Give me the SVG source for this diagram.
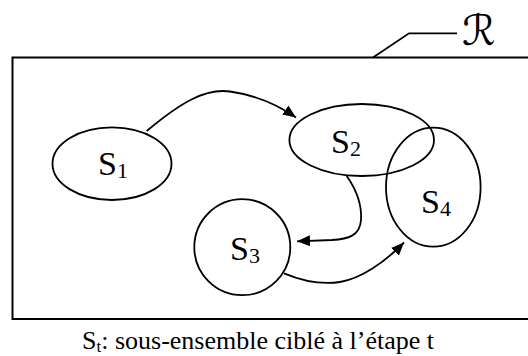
<svg xmlns="http://www.w3.org/2000/svg" width="528" height="356" viewBox="0 0 528 356">
<style>
.shape{fill:none;stroke:#000;stroke-width:1.8}
.conn{fill:none;stroke:#000;stroke-width:1.8}
.lbl{font-family:"Liberation Serif","Times New Roman",serif;font-size:34px;fill:#000}
.sub{font-size:22px}
.cap{font-family:"Liberation Serif","Times New Roman",serif;font-size:26px;fill:#000}
.capsub{font-size:17px}
</style>
<defs>
<marker id="ah" markerUnits="userSpaceOnUse" viewBox="0 0 13 11" refX="13" refY="5.5" markerWidth="13" markerHeight="11" orient="auto">
<path d="M0,0 L13,5.5 L0,11 z" fill="#000"/>
</marker>
</defs>
<rect x="12.5" y="57.5" width="530" height="261.5" fill="none" stroke="#000" stroke-width="2"/>
<g id="R-label">
<polyline points="373,57.5 409,33.3 457,33.3" fill="none" stroke="#000" stroke-width="1.8"/>
<text x="462" y="45" font-family="DejaVu Serif, DejaVu Sans, serif" font-size="42" fill="#000">ℛ</text>
</g>
<g id="S1"><ellipse class="shape" cx="112" cy="163.7" rx="59.5" ry="36.3"/><text class="lbl" x="98" y="175">S<tspan class="sub" dy="3">1</tspan></text></g>
<g id="S2"><ellipse class="shape" cx="361.7" cy="140" rx="72.3" ry="36"/><text class="lbl" x="331" y="153">S<tspan class="sub" dy="3">2</tspan></text></g>
<g id="S3"><circle class="shape" cx="242.3" cy="247.2" r="48"/><text class="lbl" x="230" y="260">S<tspan class="sub" dy="3">3</tspan></text></g>
<g id="S4"><ellipse class="shape" cx="433.3" cy="187.2" rx="47.3" ry="59.5"/><text class="lbl" x="421" y="213">S<tspan class="sub" dy="3">4</tspan></text></g>
<g id="connectors">
<path class="conn" marker-end="url(#ah)" d="M146.7,131 C180,103 205,88 230,91.5 C255,95 278,105 296,117.5"/>
<path class="conn" marker-end="url(#ah)" d="M346.7,176 C358,192 362,205 361,220 C360,236 348,239 332,240 L297,241.3"/>
<path class="conn" marker-end="url(#ah)" d="M284,273.3 C300,280 320,285 340,282 C360,279 384,263 404,242.5"/>
</g>
<text class="cap" x="82" y="349">S<tspan class="capsub" dy="3">t</tspan><tspan dy="-3">: sous-ensemble ciblé à l’étape t</tspan></text>
</svg>
